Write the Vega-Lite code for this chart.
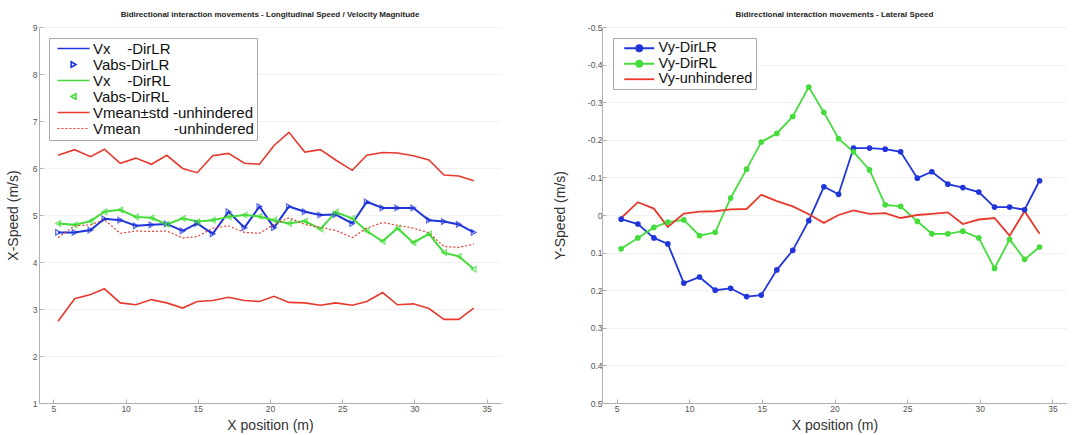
{
  "$schema": "https://vega.github.io/schema/vega-lite/v6.json",
  "padding": {"left": 6, "top": 11, "right": 0, "bottom": 4},
  "background": "white",
  "config": {
    "font": "Liberation Sans",
    "view": {"stroke": null},
    "axis": {"domainColor": "#b0b0b0", "tickColor": "#b0b0b0", "tickSize": -4, "labelFontSize": 8.5, "labelColor": "#555555", "titleFontSize": 14, "titleFontWeight": "normal", "titleColor": "#333333", "labelPadding": 5, "grid": false, "labelOverlap": false},
    "axisY": {"grid": true, "gridColor": "#f1f1f1"},
    "title": {"fontSize": 8, "fontWeight": "bold", "color": "#222222", "offset": 0}
  },
  "datasets": {
    "L": [
      {"x": 5.32, "lr": 4.63, "rl": 4.82, "up": 6.27, "lo": 2.74, "mean": 4.52},
      {"x": 6.47, "lr": 4.63, "rl": 4.79, "up": 6.39, "lo": 3.22, "mean": 4.77},
      {"x": 7.57, "lr": 4.68, "rl": 4.87, "up": 6.24, "lo": 3.31, "mean": 4.79},
      {"x": 8.53, "lr": 4.92, "rl": 5.07, "up": 6.40, "lo": 3.43, "mean": 4.9},
      {"x": 9.63, "lr": 4.89, "rl": 5.11, "up": 6.10, "lo": 3.13, "mean": 4.61},
      {"x": 10.71, "lr": 4.77, "rl": 4.96, "up": 6.21, "lo": 3.09, "mean": 4.66},
      {"x": 11.79, "lr": 4.79, "rl": 4.94, "up": 6.08, "lo": 3.20, "mean": 4.65},
      {"x": 12.85, "lr": 4.81, "rl": 4.80, "up": 6.27, "lo": 3.13, "mean": 4.66},
      {"x": 13.95, "lr": 4.66, "rl": 4.93, "up": 5.99, "lo": 3.02, "mean": 4.51},
      {"x": 14.96, "lr": 4.82, "rl": 4.86, "up": 5.90, "lo": 3.16, "mean": 4.54},
      {"x": 16.03, "lr": 4.60, "rl": 4.89, "up": 6.26, "lo": 3.18, "mean": 4.72},
      {"x": 17.13, "lr": 5.07, "rl": 4.96, "up": 6.31, "lo": 3.25, "mean": 4.77},
      {"x": 18.23, "lr": 4.73, "rl": 5.00, "up": 6.10, "lo": 3.18, "mean": 4.63},
      {"x": 19.27, "lr": 5.18, "rl": 4.97, "up": 6.08, "lo": 3.16, "mean": 4.61},
      {"x": 20.28, "lr": 4.73, "rl": 4.89, "up": 6.48, "lo": 3.27, "mean": 4.8},
      {"x": 21.31, "lr": 5.18, "rl": 4.82, "up": 6.76, "lo": 3.14, "mean": 4.94},
      {"x": 22.41, "lr": 5.07, "rl": 4.87, "up": 6.34, "lo": 3.13, "mean": 4.8},
      {"x": 23.49, "lr": 5.00, "rl": 4.70, "up": 6.39, "lo": 3.08, "mean": 4.74},
      {"x": 24.55, "lr": 5.01, "rl": 5.06, "up": 6.17, "lo": 3.13, "mean": 4.67},
      {"x": 25.70, "lr": 4.82, "rl": 4.93, "up": 5.95, "lo": 3.08, "mean": 4.52},
      {"x": 26.70, "lr": 5.28, "rl": 4.66, "up": 6.27, "lo": 3.16, "mean": 4.72},
      {"x": 27.80, "lr": 5.15, "rl": 4.44, "up": 6.33, "lo": 3.35, "mean": 4.84},
      {"x": 28.83, "lr": 5.15, "rl": 4.72, "up": 6.32, "lo": 3.09, "mean": 4.78},
      {"x": 29.93, "lr": 5.15, "rl": 4.41, "up": 6.26, "lo": 3.11, "mean": 4.72},
      {"x": 31.01, "lr": 4.89, "rl": 4.60, "up": 6.17, "lo": 3.01, "mean": 4.62},
      {"x": 32.05, "lr": 4.86, "rl": 4.20, "up": 5.85, "lo": 2.78, "mean": 4.33},
      {"x": 33.08, "lr": 4.80, "rl": 4.12, "up": 5.83, "lo": 2.78, "mean": 4.31},
      {"x": 34.11, "lr": 4.63, "rl": 3.85, "up": 5.73, "lo": 3.02, "mean": 4.38}
    ],
    "R": [
      {"x": 5.32, "lr": 0.011, "rl": 0.090, "un": 0.008},
      {"x": 6.47, "lr": 0.024, "rl": 0.061, "un": -0.034},
      {"x": 7.57, "lr": 0.061, "rl": 0.033, "un": -0.017},
      {"x": 8.53, "lr": 0.077, "rl": 0.019, "un": 0.032},
      {"x": 9.63, "lr": 0.181, "rl": 0.013, "un": -0.004},
      {"x": 10.71, "lr": 0.165, "rl": 0.055, "un": -0.009},
      {"x": 11.79, "lr": 0.200, "rl": 0.046, "un": -0.01},
      {"x": 12.85, "lr": 0.195, "rl": -0.045, "un": -0.015},
      {"x": 13.95, "lr": 0.217, "rl": -0.122, "un": -0.016},
      {"x": 14.96, "lr": 0.213, "rl": -0.194, "un": -0.054},
      {"x": 16.03, "lr": 0.146, "rl": -0.217, "un": -0.037},
      {"x": 17.13, "lr": 0.094, "rl": -0.262, "un": -0.023},
      {"x": 18.23, "lr": 0.015, "rl": -0.340, "un": -0.002},
      {"x": 19.27, "lr": -0.075, "rl": -0.273, "un": 0.021},
      {"x": 20.28, "lr": -0.055, "rl": -0.203, "un": 0.0},
      {"x": 21.31, "lr": -0.178, "rl": -0.168, "un": -0.012},
      {"x": 22.41, "lr": -0.178, "rl": -0.120, "un": -0.003},
      {"x": 23.49, "lr": -0.175, "rl": -0.027, "un": -0.005},
      {"x": 24.55, "lr": -0.168, "rl": -0.023, "un": 0.008},
      {"x": 25.70, "lr": -0.098, "rl": 0.017, "un": 0.0},
      {"x": 26.70, "lr": -0.115, "rl": 0.050, "un": -0.003},
      {"x": 27.80, "lr": -0.082, "rl": 0.050, "un": -0.007},
      {"x": 28.83, "lr": -0.073, "rl": 0.043, "un": 0.024},
      {"x": 29.93, "lr": -0.061, "rl": 0.061, "un": 0.012},
      {"x": 31.01, "lr": -0.021, "rl": 0.142, "un": 0.008},
      {"x": 32.05, "lr": -0.021, "rl": 0.065, "un": 0.055},
      {"x": 33.08, "lr": -0.014, "rl": 0.118, "un": -0.01},
      {"x": 34.11, "lr": -0.091, "rl": 0.085, "un": 0.050}
    ]
  },
  "resolve": {"scale": {"color": "independent", "x": "independent", "y": "independent"}, "legend": {"color": "independent"}},
  "spacing": 52,
  "hconcat": [
    {
      "title": "Bidirectional interaction movements - Longitudinal Speed / Velocity Magnitude",
      "width": 462,
      "height": 376,
      "data": {"name": "L"},
      "layer": [
        {
          "transform": [{"fold": ["lr", "rl"], "as": ["k", "v"]}],
          "mark": {"type": "line", "strokeWidth": 2},
          "encoding": {
            "x": {"field": "x", "type": "quantitative", "scale": {"domain": [4, 36], "nice": false, "zero": false}, "axis": {"values": [5, 10, 15, 20, 25, 30, 35], "tickCount": 20, "format": "d", "title": "X position (m)", "titlePadding": 6, "labelPadding": 5, "labelOverlap": false}},
            "y": {"field": "v", "type": "quantitative", "scale": {"domain": [1, 9], "nice": false, "zero": false}, "axis": {"values": [1, 2, 3, 4, 5, 6, 7, 8, 9], "tickCount": 20, "format": "d", "title": "X-Speed (m/s)", "titlePadding": 12, "labelPadding": 6, "labelOverlap": false}},
            "color": {
              "field": "k", "type": "nominal",
              "scale": {"domain": ["lr", "vlr", "rl", "vrl", "up", "mean", "lo"], "range": ["#1f35d9", "#1f35d9", "#44dc3a", "#44dc3a", "#e8392d", "#e8392d", "#e8392d"]},
              "legend": {
                "orient": "none", "legendX": 10, "legendY": 11, "title": null,
                "values": ["lr", "vlr", "rl", "vrl", "up", "mean"],
                "labelExpr": "datum.value === 'lr' ? 'Vx\u00a0\u00a0\u00a0\u00a0-DirLR' : datum.value === 'vlr' ? 'Vabs-DirLR' : datum.value === 'rl' ? 'Vx\u00a0\u00a0\u00a0\u00a0-DirRL' : datum.value === 'vrl' ? 'Vabs-DirRL' : datum.value === 'up' ? 'Vmean±std\u00a0-unhindered' : 'Vmean\u00a0\u00a0\u00a0\u00a0\u00a0\u00a0\u00a0\u00a0-unhindered'",
                "labelFontSize": 15, "labelColor": "#111111", "labelFont": "Liberation Sans", "labelLimit": 400,
                "fillColor": "white", "strokeColor": "#a8a8a8", "padding": 3,
                "symbolSize": 100, "symbolOffset": 14, "labelOffset": 12, "rowPadding": 0,
                "encode": {
                  "symbols": {
                    "update": {
                      "shape": {"signal": "datum.value === 'vlr' ? 'triangle-right' : datum.value === 'vrl' ? 'triangle-left' : 'M-3.2,0H3.2'"},
                      "size": {"signal": "datum.value === 'vlr' || datum.value === 'vrl' ? 30 : 100"},
                      "stroke": {"signal": "datum.value === 'lr' || datum.value === 'vlr' ? '#1f35d9' : datum.value === 'rl' || datum.value === 'vrl' ? '#44dc3a' : '#e8392d'"},
                      "fill": {"value": "transparent"},
                      "strokeWidth": {"signal": "datum.value === 'mean' ? 1.2 : 1.6"},
                      "strokeDash": {"signal": "datum.value === 'mean' ? [2, 2] : [1, 0]"},
                      "opacity": {"value": 1}
                    }
                  }
                }
              }
            }
          }
        },
        {
          "transform": [{"fold": ["up", "lo"], "as": ["k", "v"]}],
          "mark": {"type": "line", "strokeWidth": 1.6},
          "encoding": {
            "x": {"field": "x", "type": "quantitative"},
            "y": {"field": "v", "type": "quantitative"},
            "color": {"field": "k", "type": "nominal"},
            "detail": {"field": "k", "type": "nominal"}
          }
        },
        {
          "transform": [{"fold": ["mean"], "as": ["k", "v"]}],
          "mark": {"type": "line", "strokeWidth": 1.2, "strokeDash": [2, 2]},
          "encoding": {
            "x": {"field": "x", "type": "quantitative"},
            "y": {"field": "v", "type": "quantitative"},
            "color": {"field": "k", "type": "nominal"}
          }
        },
        {
          "mark": {"type": "point", "shape": "triangle-right", "size": 30, "filled": false, "color": "#1f35d9", "strokeWidth": 1.3},
          "encoding": {
            "x": {"field": "x", "type": "quantitative"},
            "y": {"field": "lr", "type": "quantitative"}
          }
        },
        {
          "mark": {"type": "point", "shape": "triangle-left", "size": 30, "filled": false, "color": "#44dc3a", "strokeWidth": 1.3},
          "encoding": {
            "x": {"field": "x", "type": "quantitative"},
            "y": {"field": "rl", "type": "quantitative"}
          }
        }
      ]
    },
    {
      "title": "Bidirectional interaction movements - Lateral Speed",
      "width": 465,
      "height": 376,
      "data": {"name": "R"},
      "layer": [
        {
          "transform": [{"fold": ["lr", "rl", "un"], "as": ["k", "v"]}],
          "mark": {"type": "line", "strokeWidth": 1.8},
          "encoding": {
            "x": {"field": "x", "type": "quantitative", "scale": {"domain": [4, 36], "nice": false, "zero": false}, "axis": {"values": [5, 10, 15, 20, 25, 30, 35], "tickCount": 20, "format": "d", "title": "X position (m)", "titlePadding": 6, "labelPadding": 5, "labelOverlap": false}},
            "y": {"field": "v", "type": "quantitative", "scale": {"domain": [-0.5, 0.5], "nice": false, "zero": false, "reverse": true}, "axis": {"values": [-0.5, -0.4, -0.3, -0.2, -0.1, 0, 0.1, 0.2, 0.3, 0.4, 0.5], "tickCount": 20, "labelExpr": "datum.value == 0 ? '0' : (datum.value < 0 ? '-' : '') + format(abs(datum.value), '.1f')", "title": "Y-Speed (m/s)", "titlePadding": 20, "labelPadding": 4, "labelOverlap": false}},
            "color": {
              "field": "k", "type": "nominal",
              "scale": {"domain": ["lr", "rl", "un"], "range": ["#1f35d9", "#44dc3a", "#e8392d"]},
              "legend": {
                "orient": "none", "legendX": 11, "legendY": 11, "title": null,
                "labelExpr": "datum.value === 'lr' ? 'Vy-DirLR' : datum.value === 'rl' ? 'Vy-DirRL' : 'Vy-unhindered'",
                "labelFontSize": 14.5, "labelColor": "#111111", "labelFont": "Liberation Sans", "labelLimit": 400,
                "fillColor": "white", "strokeColor": "#a8a8a8", "padding": 3,
                "symbolSize": 100, "symbolOffset": 16, "labelOffset": 12, "rowPadding": 0.5,
                "encode": {
                  "symbols": {
                    "update": {
                      "shape": {"signal": "datum.value === 'un' ? 'M-3,0H3' : 'M-3,0H3M-0.6,0A0.6,0.6,0,1,0,0.6,0A0.6,0.6,0,1,0,-0.6,0Z'"},
                      "size": {"value": 100},
                      "stroke": {"signal": "datum.value === 'lr' ? '#1f35d9' : datum.value === 'rl' ? '#44dc3a' : '#e8392d'"},
                      "fill": {"signal": "datum.value === 'lr' ? '#1f35d9' : datum.value === 'rl' ? '#44dc3a' : 'transparent'"},
                      "strokeWidth": {"value": 1.8},
                      "opacity": {"value": 1}
                    }
                  }
                }
              }
            }
          }
        },
        {
          "transform": [{"fold": ["lr", "rl"], "as": ["k", "v"]}],
          "mark": {"type": "point", "filled": true, "size": 32, "opacity": 1, "shape": "circle"},
          "encoding": {
            "x": {"field": "x", "type": "quantitative"},
            "y": {"field": "v", "type": "quantitative"},
            "color": {"field": "k", "type": "nominal"}
          }
        }
      ]
    }
  ]
}
